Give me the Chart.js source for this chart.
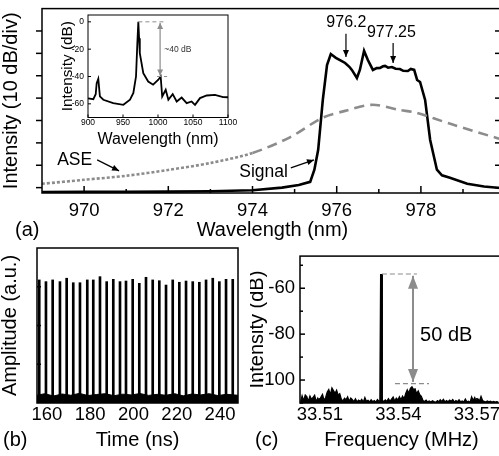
<!DOCTYPE html>
<html>
<head>
<meta charset="utf-8">
<script src="https://cdn.jsdelivr.net/npm/chart.js@4.4.1/dist/chart.umd.min.js"></script>
<style>
  html, body { margin: 0; padding: 0; background: #fff; overflow: hidden; width: 499px; height: 456px; }
  canvas { position: absolute; }
</style>
</head>
<body>
<canvas id="pa" width="515" height="245" style="left:0;top:0"></canvas>
<canvas id="inset" width="200" height="150" style="left:40px;top:5px"></canvas>
<canvas id="pb" width="250" height="216" style="left:0;top:240px"></canvas>
<canvas id="pc" width="270" height="216" style="left:250px;top:240px"></canvas>
<script>
// ---- data ----
// (a) laser output spectrum, dB (10 dB/div, arbitrary zero)
const sigWl = [969.0, 970.0, 971.0, 972.0, 973.0, 974.0, 974.7, 975.1, 975.37, 975.47, 975.56, 975.67, 975.77, 975.86, 975.98, 976.1, 976.2, 976.3, 976.36, 976.48, 976.55, 976.65, 976.74, 976.86, 976.95, 977.03, 977.1, 977.15, 977.22, 977.31, 977.4, 977.5, 977.58, 977.69, 977.76, 977.84, 977.91, 977.98, 978.1, 978.22, 978.38, 978.5, 978.69, 979.1, 979.5, 979.95];
const sigDb = [-82.0, -81.9, -81.9, -81.8, -81.6, -81.2, -80.0, -78.8, -77.4, -72.0, -63.1, -40.8, -25.2, -20.3, -22.0, -23.2, -24.3, -26.0, -27.4, -31.0, -27.4, -18.9, -23.0, -27.4, -26.6, -26.5, -25.8, -25.6, -26.4, -26.1, -26.9, -27.0, -27.8, -27.9, -27.0, -27.4, -31.9, -32.8, -40.8, -58.7, -72.0, -74.5, -75.6, -78.3, -79.5, -80.3];
const aseWl = [969.0, 970.0, 971.0, 972.0, 973.0, 974.0, 974.9, 975.65, 976.2, 976.84, 977.5, 977.9, 978.7, 979.8, 979.95];
const aseDb = [-78.3, -76.5, -74.7, -72.1, -69.0, -64.5, -57.4, -48.9, -45.7, -43.0, -45.3, -46.6, -51.5, -57.8, -58.4];
const aTicksX = [970, 972, 974, 976, 978];
const aMinorX = [971, 973, 975, 977, 979];
const aTicksY = [-10, -20, -30, -40, -50, -60, -70, -80];

// (a) inset: broadband spectrum
const insetWl = [900, 907.6, 911, 912.4, 914.7, 917, 921.9, 936, 950.5, 960, 964.8, 968.6, 970.5, 971.9, 973, 974, 979, 986, 993, 1000.5, 1003.8, 1006, 1011, 1014.8, 1021, 1026.7, 1033.8, 1041, 1048, 1052.9, 1060, 1069.6, 1081.4, 1093, 1100];
const insetDb = [-56, -56.6, -53, -44.9, -41.7, -54.6, -57, -59.5, -60.7, -57, -52, -40, -15.6, 0, -12, -23, -37.5, -43.7, -46, -42.4, -40, -54.6, -49.7, -57, -52.9, -58.3, -55.4, -59.5, -58.3, -60.7, -55.8, -53.9, -53.4, -55.1, -55.2];
const insetTicksX = [900, 950, 1000, 1050, 1100];
const insetTicksY = [0, -20, -40, -60];

// (b) pulse train
const pulseT = [156.44, 159.54, 162.64, 166.01, 169.11, 172.16, 175.26, 178.64, 181.41, 184.51, 187.61, 190.66, 193.76, 196.53, 199.63, 202.68, 205.78, 208.88, 211.93, 215.03, 218.13, 221.18, 224.28, 227.38, 230.43, 233.53, 236.63, 239.68, 242.77, 245.87];
const pulseA = [0.794, 0.783, 0.794, 0.783, 0.805, 0.776, 0.776, 0.794, 0.794, 0.815, 0.783, 0.798, 0.783, 0.787, 0.798, 0.772, 0.811, 0.794, 0.789, 0.761, 0.794, 0.779, 0.787, 0.783, 0.779, 0.794, 0.805, 0.783, 0.798, 0.798];
const floorT = [155.4, 159, 163, 167, 171, 175, 179, 183, 187, 191, 195, 199, 203, 207, 211, 215, 219, 223, 227, 231, 235, 239, 243, 248.3];
const floorA = [0.05, 0.06, 0.045, 0.058, 0.05, 0.062, 0.048, 0.055, 0.06, 0.047, 0.057, 0.052, 0.061, 0.049, 0.056, 0.05, 0.06, 0.046, 0.058, 0.052, 0.06, 0.048, 0.056, 0.05];
const bTicksX = [160, 180, 200, 220, 240];

// (c) RF spectrum
const rfPeakF = [33.5331, 33.5334, 33.5337];
const rfPeakDb = [-109.8, -53.8, -109.8];
const rfNoise = [
  [33.5026, -109.5], [33.5032, -106.8], [33.5038, -109.0], [33.5044, -106.5], [33.5050, -107.2], [33.5056, -109.2],
  [33.5062, -106.9], [33.5068, -108.4], [33.5074, -107.5], [33.5080, -106.6], [33.5086, -109.3], [33.5092, -107.8],
  [33.5098, -108.9], [33.5104, -107.4], [33.5110, -106.2], [33.5116, -108.8], [33.5122, -107.6], [33.5128, -105.2],
  [33.5134, -104.1], [33.5140, -106.4], [33.5146, -103.4], [33.5152, -104.6], [33.5158, -105.8], [33.5164, -104.4],
  [33.5170, -106.6], [33.5176, -105.9], [33.5182, -108.3], [33.5188, -109.1], [33.5194, -107.9], [33.5200, -108.6],
  [33.5206, -107.3], [33.5212, -109.2], [33.5218, -107.8], [33.5224, -108.5], [33.5230, -109.4], [33.5236, -108.2],
  [33.5242, -109.5], [33.5248, -108.7], [33.5254, -109.3], [33.5260, -108.4], [33.5266, -109.6], [33.5272, -107.6],
  [33.5278, -109.2], [33.5284, -108.8], [33.5290, -109.5], [33.5296, -108.6], [33.5302, -109.4], [33.5308, -108.9],
  [33.5314, -109.6], [33.5320, -108.5], [33.5326, -109.3], [33.5338, -108.7], [33.5344, -109.4], [33.5350, -108.6],
  [33.5356, -109.3], [33.5362, -108.1], [33.5368, -109.2], [33.5374, -108.3], [33.5380, -107.4], [33.5386, -109.1],
  [33.5392, -107.9], [33.5398, -108.8], [33.5404, -107.2], [33.5410, -108.6], [33.5416, -107.0], [33.5422, -108.2],
  [33.5428, -105.8], [33.5434, -104.2], [33.5440, -105.6], [33.5446, -103.6], [33.5452, -102.9], [33.5458, -104.1],
  [33.5464, -103.8], [33.5470, -105.9], [33.5476, -104.7], [33.5482, -106.4], [33.5488, -107.1], [33.5494, -108.9],
  [33.5500, -109.3], [33.5506, -108.7], [33.5512, -109.5], [33.5518, -109.1], [33.5524, -109.6], [33.5530, -109.0],
  [33.5536, -109.4], [33.5542, -109.7], [33.5548, -109.2], [33.5554, -109.6], [33.5560, -108.6], [33.5566, -109.3],
  [33.5572, -108.4], [33.5578, -109.5], [33.5584, -108.9], [33.5590, -109.4], [33.5596, -108.7], [33.5602, -109.2],
  [33.5608, -108.5], [33.5614, -109.6], [33.5620, -108.9], [33.5626, -109.4], [33.5632, -108.6], [33.5638, -109.5],
  [33.5644, -109.1], [33.5650, -109.6], [33.5656, -108.3], [33.5662, -109.5], [33.5668, -109.2], [33.5674, -109.7],
  [33.5680, -107.3], [33.5686, -108.8], [33.5692, -107.6], [33.5698, -109.4], [33.5704, -108.2], [33.5710, -109.1],
  [33.5716, -107.1], [33.5722, -108.9], [33.5728, -109.3], [33.5734, -109.6], [33.5740, -109.1], [33.5746, -109.5],
  [33.5752, -109.2], [33.5758, -109.6], [33.5764, -109.3], [33.5770, -109.6], [33.5776, -109.4], [33.5782, -109.6]
];
const cTicksX = [33.51, 33.54, 33.57];
const cMinorX = [33.525, 33.555];
const cTicksY = [-60, -80, -100];
const cMinorY = [-50, -70, -90, -110];

// ---- helpers ----
const FONT = "'Liberation Sans', Arial, Helvetica, sans-serif";
const GRAY = '#8c8c8c';

function xy(xs, ys) {
  return xs.map((v, i) => ({ x: v, y: ys[i] }));
}

// frame, inward/outward ticks, annotations
const frame = {
  id: 'frame',
  afterDatasetsDraw(chart, args, o) {
    const { ctx, chartArea: a, scales } = chart;
    const X = v => scales.x.getPixelForValue(v);
    const Y = v => scales.y.getPixelForValue(v);
    ctx.save();
    ctx.strokeStyle = '#000';
    ctx.lineWidth = o.width;
    ctx.strokeRect(a.left, a.top, a.right - a.left, a.bottom - a.top);
    (o.ticks || []).forEach(t => {
      const sc = scales[t.axis];
      t.values.forEach(v => {
        const p = sc.getPixelForValue(v);
        ctx.beginPath();
        if (t.side === 'bottom') { ctx.moveTo(p, a.bottom); ctx.lineTo(p, a.bottom - t.len); }
        else if (t.side === 'left') { ctx.moveTo(a.left, p); ctx.lineTo(a.left + t.len, p); }
        else { ctx.moveTo(a.right, p); ctx.lineTo(a.right - t.len, p); }
        ctx.stroke();
      });
    });
    (o.lines || []).forEach(l => {
      ctx.strokeStyle = l.color; ctx.lineWidth = l.width; ctx.setLineDash(l.dash);
      ctx.beginPath(); ctx.moveTo(X(l.x1), Y(l.y1)); ctx.lineTo(X(l.x2), Y(l.y2)); ctx.stroke();
    });
    ctx.setLineDash([]);
    (o.arrows || []).forEach(r => {
      const x1 = X(r.x1), y1 = Y(r.y1), x2 = X(r.x2), y2 = Y(r.y2);
      const ang = Math.atan2(y2 - y1, x2 - x1);
      const head = (hx, hy, an) => {
        ctx.beginPath();
        ctx.moveTo(hx, hy);
        ctx.lineTo(hx - r.head * Math.cos(an) + r.half * Math.sin(an), hy - r.head * Math.sin(an) - r.half * Math.cos(an));
        ctx.lineTo(hx - r.head * Math.cos(an) - r.half * Math.sin(an), hy - r.head * Math.sin(an) + r.half * Math.cos(an));
        ctx.closePath(); ctx.fill();
      };
      ctx.strokeStyle = r.color; ctx.fillStyle = r.color; ctx.lineWidth = r.width;
      ctx.beginPath(); ctx.moveTo(x1, y1); ctx.lineTo(x2, y2); ctx.stroke();
      head(x2, y2, ang);
      if (r.both) head(x1, y1, ang + Math.PI);
    });
    (o.labels || []).forEach(t => {
      ctx.font = t.font; ctx.fillStyle = t.color || '#000';
      ctx.textAlign = t.align || 'center'; ctx.textBaseline = 'middle';
      if (t.px) ctx.fillText(t.text, t.px[0], t.px[1]);
      else ctx.fillText(t.text, X(t.x), Y(t.y));
    });
    ctx.restore();
  }
};

function axis(opts) {
  // fixed-size axis so the plot boxes land where they are in the figure
  return {
    type: 'linear',
    min: opts.min, max: opts.max,
    position: opts.position,
    offset: false,
    grid: { display: false, drawTicks: false, offset: false },
    border: { display: false },
    afterFit: s => { if (opts.position === 'bottom') s.height = opts.size; else s.width = opts.size; },
    afterBuildTicks: s => { s.ticks = (opts.ticks || []).map(v => ({ value: v })); },
    ticks: {
      display: !!opts.ticks,
      padding: opts.pad,
      color: '#000',
      font: { family: FONT, size: opts.tickSize },
      callback: v => String(v)
    },
    title: {
      display: true, text: opts.title, color: '#000',
      font: { family: FONT, size: opts.titleSize, lineHeight: opts.position === 'bottom' ? 1.2 : 1 },
      padding: opts.titlePad
    }
  };
}

const base = {
  responsive: false,
  animation: false,
  events: [],
  devicePixelRatio: 1,
  elements: { point: { radius: 0 } },
  plugins: { legend: { display: false }, tooltip: { enabled: false } }
};

// ---- (a) main spectrum ----
new Chart(document.getElementById('pa'), {
  type: 'line',
  data: {
    datasets: [
      {
        data: xy(aseWl, aseDb), borderColor: GRAY, borderWidth: 2.6, tension: 0.3,
        segment: { borderDash: c => c.p0.parsed.x < 973.5 ? [3, 2] : [10, 6] }
      },
      { data: xy(sigWl, sigDb), borderColor: '#000', borderWidth: 2.6, tension: 0 }
    ]
  },
  options: {
    ...base,
    layout: { padding: { top: 8.6, right: 12, left: 0, bottom: 0 } },
    scales: {
      x: axis({ min: 969, max: 979.95, position: 'bottom', size: 52, ticks: aTicksX, pad: 6.4, tickSize: 18.5,
        title: 'Wavelength (nm)', titleSize: 20, titlePad: { top: 0, bottom: 3 } }),
      y: axis({ min: -82.4, max: 0, position: 'left', size: 42, ticks: null, pad: 0, tickSize: 12,
        title: 'Intensity (10 dB/div)', titleSize: 20, titlePad: { top: 1, bottom: 0 } })
    },
    plugins: {
      ...base.plugins,
      frame: {
        width: 1.5,
        ticks: [
          { axis: 'x', side: 'bottom', values: aTicksX, len: 7 },
          { axis: 'x', side: 'bottom', values: aMinorX, len: 4 },
          { axis: 'y', side: 'left', values: aTicksY, len: -6 },
          { axis: 'y', side: 'right', values: aTicksY, len: 8 }
        ],
        arrows: [
          { x1: 976.22, y1: -11.2, x2: 976.22, y2: -21.6, color: '#000', width: 1.2, head: 7, half: 3 },
          { x1: 977.34, y1: -15.4, x2: 977.34, y2: -24.3, color: '#000', width: 1.2, head: 7, half: 3 },
          { x1: 970.31, y1: -67.6, x2: 970.83, y2: -72.5, color: '#000', width: 1.2, head: 7, half: 3 },
          { x1: 974.91, y1: -71.2, x2: 975.46, y2: -67.6, color: '#000', width: 1.2, head: 7, half: 3 }
        ],
        labels: [
          { text: '976.2', x: 976.23, y: -6.4, font: '16px ' + FONT },
          { text: '977.25', x: 977.3, y: -10.9, font: '16px ' + FONT },
          { text: 'ASE', x: 969.36, y: -67.6, font: '17.5px ' + FONT, align: 'left' },
          { text: 'Signal', x: 974.84, y: -72.9, font: '17.5px ' + FONT, align: 'right' },
          { text: '(a)', px: [15, 230], font: '20px ' + FONT, align: 'left' }
        ]
      }
    }
  },
  plugins: [frame]
});

// ---- (a) inset ----
new Chart(document.getElementById('inset'), {
  type: 'line',
  data: {
    datasets: [{ data: xy(insetWl, insetDb), borderColor: '#000', borderWidth: 1.8, tension: 0 }]
  },
  options: {
    ...base,
    layout: { padding: { top: 10, right: 12, left: 0, bottom: 0 } },
    scales: {
      x: axis({ min: 900, max: 1100, position: 'bottom', size: 37.5, ticks: insetTicksX, pad: 0.5, tickSize: 8.5,
        title: 'Wavelength (nm)', titleSize: 16, titlePad: { top: 0, bottom: 6 } }),
      y: axis({ min: -70, max: 5, position: 'left', size: 48, ticks: insetTicksY, pad: 4, tickSize: 8.5,
        title: 'Intensity (dB)', titleSize: 15.3, titlePad: { top: 20, bottom: 0 } })
    },
    plugins: {
      ...base.plugins,
      frame: {
        width: 1,
        ticks: [
          { axis: 'x', side: 'bottom', values: insetTicksX, len: 3 },
          { axis: 'y', side: 'left', values: insetTicksY, len: 3 }
        ],
        lines: [
          { x1: 972, y1: 0, x2: 1008, y2: 0, color: GRAY, width: 1, dash: [4, 3] },
          { x1: 998.6, y1: -40, x2: 1013, y2: -40, color: GRAY, width: 1, dash: [4, 3] }
        ],
        arrows: [
          { x1: 1003, y1: -0.8, x2: 1003, y2: -39.2, color: GRAY, width: 1.2, head: 6, half: 3, both: true }
        ],
        labels: [
          { text: '~40 dB', x: 1009, y: -20.5, font: '8.5px ' + FONT, align: 'left', color: '#333' }
        ]
      }
    }
  },
  plugins: [frame]
});

// ---- (b) pulse train ----
new Chart(document.getElementById('pb'), {
  data: {
    datasets: [
      { type: 'bar', data: xy(pulseT, pulseA), backgroundColor: '#000', barThickness: 2 },
      { type: 'line', data: xy(floorT, floorA), borderColor: '#000', borderWidth: 1, backgroundColor: '#000', fill: 'start', tension: 0 }
    ]
  },
  options: {
    ...base,
    layout: { padding: { top: 8, right: 12, left: 0, bottom: 0 } },
    scales: {
      x: axis({ min: 155.4, max: 248.3, position: 'bottom', size: 53, ticks: bTicksX, pad: 1, tickSize: 18.5,
        title: 'Time (ns)', titleSize: 20, titlePad: { top: 0, bottom: 4 } }),
      y: axis({ min: 0, max: 1, position: 'left', size: 37, ticks: null, pad: 0, tickSize: 12,
        title: 'Amplitude (a.u.)', titleSize: 20, titlePad: { top: 0, bottom: 0 } })
    },
    plugins: {
      ...base.plugins,
      frame: {
        width: 1.5,
        ticks: [
          { axis: 'x', side: 'bottom', values: bTicksX, len: 5 },
          { axis: 'y', side: 'left', values: [0.25, 0.5, 0.75], len: 4 }
        ],
        labels: [{ text: '(b)', px: [3, 200], font: '20px ' + FONT, align: 'left' }]
      }
    }
  },
  plugins: [frame]
});

// ---- (c) RF spectrum ----
new Chart(document.getElementById('pc'), {
  type: 'line',
  data: {
    datasets: [
      { data: rfNoise.map(p => ({ x: p[0], y: p[1] })), borderColor: '#000', borderWidth: 1.2, backgroundColor: '#000', fill: 'start', tension: 0 },
      { data: xy(rfPeakF, rfPeakDb), borderColor: '#000', borderWidth: 2.2, tension: 0 }
    ]
  },
  options: {
    ...base,
    layout: { padding: { top: 8, right: 17, left: 0, bottom: 0 } },
    scales: {
      x: axis({ min: 33.5024, max: 33.58, position: 'bottom', size: 53, ticks: cTicksX, pad: 1, tickSize: 18.5,
        title: 'Frequency (MHz)', titleSize: 20, titlePad: { top: 0, bottom: 4 } }),
      y: axis({ min: -110, max: -46, position: 'left', size: 50, ticks: cTicksY, pad: 5, tickSize: 18.5,
        title: 'Intensity (dB)', titleSize: 20, titlePad: { top: -3, bottom: 0 } })
    },
    plugins: {
      ...base.plugins,
      frame: {
        width: 1.5,
        ticks: [
          { axis: 'x', side: 'bottom', values: cTicksX, len: 5 },
          { axis: 'x', side: 'bottom', values: cMinorX, len: 3 },
          { axis: 'y', side: 'left', values: cTicksY, len: 5 },
          { axis: 'y', side: 'left', values: cMinorY, len: 3 }
        ],
        lines: [
          { x1: 33.5337, y1: -53.8, x2: 33.5471, y2: -53.8, color: GRAY, width: 1.2, dash: [5, 3] },
          { x1: 33.5387, y1: -101.6, x2: 33.5517, y2: -101.6, color: GRAY, width: 1.2, dash: [5, 3] }
        ],
        arrows: [
          { x1: 33.5456, y1: -54.6, x2: 33.5456, y2: -100.8, color: GRAY, width: 2, head: 13, half: 5, both: true }
        ],
        labels: [
          { text: '50 dB', x: 33.5483, y: -80.6, font: '20px ' + FONT, align: 'left' },
          { text: '(c)', px: [5, 200], font: '20px ' + FONT, align: 'left' }
        ]
      }
    }
  },
  plugins: [frame]
});
</script>
</body>
</html>
